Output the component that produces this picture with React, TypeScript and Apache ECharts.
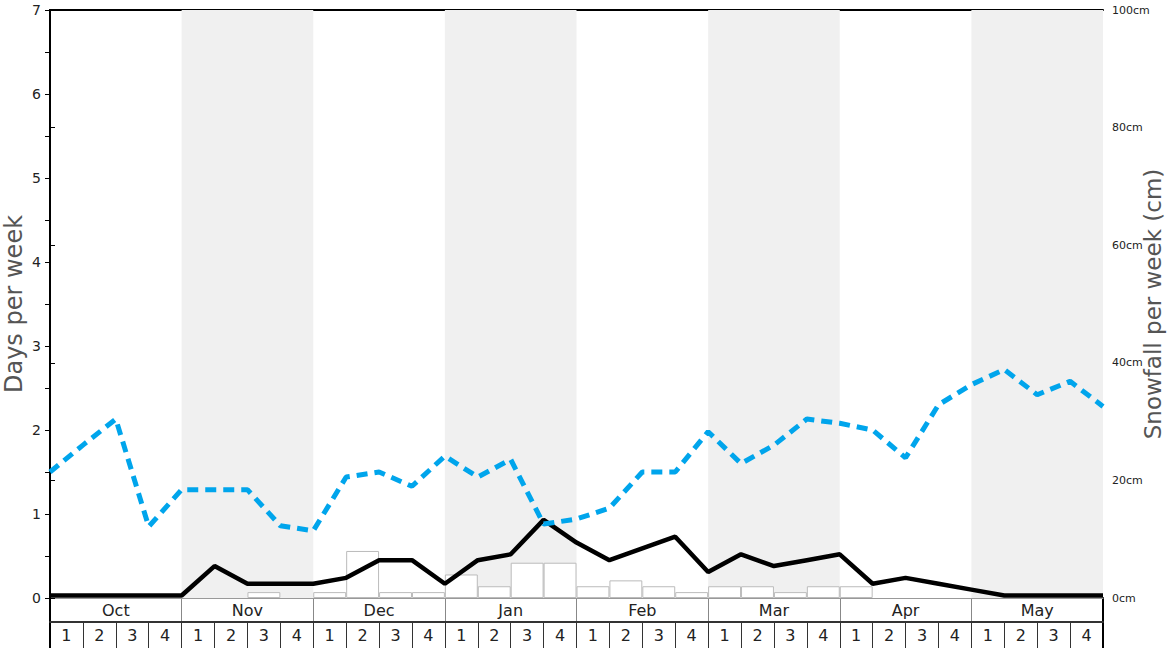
import React, { useEffect, useRef } from 'react';
import * as echarts from 'echarts';

const months = ['Oct', 'Nov', 'Dec', 'Jan', 'Feb', 'Mar', 'Apr', 'May'];
const weekLabels = ['1', '2', '3', '4'];
const shadedMonths = ['Nov', 'Jan', 'Mar', 'May'];

// Weekly snowfall (cm), 4 weeks per month, Oct..May
const snowfallCm = [
  0, 0, 0, 0,
  0, 0, 1, 0,
  1, 8, 1, 1,
  4, 2, 6, 6,
  2, 3, 2, 1,
  2, 2, 1, 2,
  2, 0, 0, 0,
  0, 0, 0, 0,
];

// Days per week, at week boundaries (33 points)
const snowDays = [
  1.5, 1.82, 2.13, 0.85,
  1.29, 1.29, 1.29, 0.86,
  0.8, 1.44, 1.5, 1.33,
  1.69, 1.44, 1.65, 0.88,
  0.94, 1.07, 1.5, 1.5,
  1.98, 1.6, 1.82, 2.13,
  2.08, 2.0, 1.67, 2.3,
  2.54, 2.72, 2.42, 2.58,
  2.28,
];

const powderDays = [
  0.03, 0.03, 0.03, 0.03,
  0.03, 0.38, 0.17, 0.17,
  0.17, 0.24, 0.45, 0.45,
  0.17, 0.45, 0.52, 0.93,
  0.66, 0.45, 0.59, 0.73,
  0.31, 0.52, 0.38, 0.45,
  0.52, 0.17, 0.24, 0.17,
  0.1, 0.03, 0.03, 0.03,
  0.03,
];

const FONT = 'DejaVu Sans';

export default function App() {
  const ref = useRef<HTMLDivElement>(null);

  useEffect(() => {
    if (!ref.current) return;
    const chart = echarts.init(ref.current, null, { renderer: 'svg' });

    const weekIds = months.flatMap((m) => weekLabels.map((w) => `${m}-${w}`));
    const nWeeks = weekIds.length;

    const shadeAreas = shadedMonths.map((m) => {
      const i = months.indexOf(m);
      return [{ xAxis: i * 4 }, { xAxis: i * 4 + 4 }];
    });

    const hiddenVal = (gridIndex: number, position: string) => ({
      type: 'value',
      gridIndex,
      position,
      min: 0,
      max: 1,
      axisLine: { show: true, lineStyle: { color: '#000', width: 2 } },
      axisTick: { show: false },
      axisLabel: { show: false },
      splitLine: { show: false },
    });

    const option: any = {
      animation: false,
      textStyle: { fontFamily: FONT },
      grid: [
        { left: 50, top: 10, width: 1053, height: 588, outerBoundsMode: 'none', containLabel: false },
        { left: 50, top: 598, width: 1053, height: 24, outerBoundsMode: 'none', containLabel: false },
        { left: 50, top: 622, width: 1053, height: 26, outerBoundsMode: 'none', containLabel: false },
      ],
      xAxis: [
        {
          type: 'value',
          gridIndex: 0,
          position: 'bottom',
          min: 0,
          max: nWeeks,
          axisLine: { show: true, lineStyle: { color: '#999', width: 1 } },
          axisTick: { show: false },
          axisLabel: { show: false },
          splitLine: { show: false },
        },
        {
          type: 'category',
          gridIndex: 0,
          position: 'bottom',
          data: weekIds,
          show: false,
          boundaryGap: true,
        },
        {
          type: 'value',
          gridIndex: 0,
          position: 'top',
          min: 0,
          max: nWeeks,
          axisLine: { show: true, lineStyle: { color: '#000', width: 2 } },
          axisTick: { show: false },
          axisLabel: { show: false },
          splitLine: { show: false },
        },
        {
          type: 'category',
          gridIndex: 1,
          position: 'bottom',
          data: months,
          boundaryGap: true,
          axisLine: { show: true, lineStyle: { color: '#333', width: 2 } },
          axisTick: { show: false },
          axisLabel: {
            inside: true,
            interval: 0,
            margin: 12,
            verticalAlign: 'middle',
            fontSize: 16,
            color: '#222',
            fontFamily: FONT,
          },
          splitLine: { show: true, interval: 0, lineStyle: { color: '#888', width: 1 } },
        },
        {
          type: 'category',
          gridIndex: 2,
          position: 'bottom',
          data: weekIds,
          boundaryGap: true,
          axisLine: { show: false },
          axisTick: { show: false },
          axisLabel: {
            inside: true,
            interval: 0,
            margin: 13,
            verticalAlign: 'middle',
            fontSize: 16,
            color: '#222',
            fontFamily: FONT,
            formatter: (_v: string, i: number) => weekLabels[i % 4],
          },
          splitLine: { show: true, interval: 0, lineStyle: { color: '#333', width: 1 } },
        },
      ],
      yAxis: [
        {
          type: 'value',
          gridIndex: 0,
          position: 'left',
          min: 0,
          max: 7,
          interval: 0.5,
          axisLine: { show: true, lineStyle: { color: '#000', width: 2 } },
          axisTick: { show: true, length: 5, lineStyle: { color: '#000', width: 1 } },
          axisLabel: {
            formatter: (v: number) => (Number.isInteger(v) ? String(v) : ''),
            fontSize: 14,
            color: '#222',
            margin: 9,
            fontFamily: FONT,
          },
          splitLine: { show: false },
          name: 'Days per week',
          nameLocation: 'middle',
          nameRotate: 90,
          nameGap: 24,
          nameMoveOverlap: false,
          nameTextStyle: { fontSize: 24, color: '#555', fontFamily: FONT },
        },
        {
          type: 'value',
          gridIndex: 0,
          position: 'right',
          min: 0,
          max: 100,
          interval: 20,
          axisLine: { show: true, lineStyle: { color: '#000', width: 2 } },
          axisTick: { show: true, length: 5, lineStyle: { color: '#000', width: 1 } },
          axisLabel: {
            formatter: '{value}cm',
            fontSize: 11,
            color: '#222',
            margin: 9,
            fontFamily: FONT,
          },
          splitLine: { show: false },
          name: 'Snowfall per week (cm)',
          nameLocation: 'middle',
          nameRotate: 90,
          nameGap: 38,
          nameMoveOverlap: false,
          nameTextStyle: { fontSize: 23, color: '#555', fontFamily: FONT },
        },
        hiddenVal(1, 'left'),
        hiddenVal(1, 'right'),
        hiddenVal(2, 'left'),
        hiddenVal(2, 'right'),
      ],
      series: [
        {
          type: 'line',
          xAxisIndex: 0,
          yAxisIndex: 0,
          z: 0,
          data: [],
          silent: true,
          markArea: {
            silent: true,
            itemStyle: { color: '#f0f0f0' },
            data: shadeAreas,
          },
        },
        {
          type: 'bar',
          xAxisIndex: 1,
          yAxisIndex: 1,
          z: 2,
          barCategoryGap: '0%',
          data: snowfallCm.map((v) => (v === 0 ? '-' : v)),
          itemStyle: { color: '#ffffff', borderColor: '#bbbbbb', borderWidth: 1 },
        },
        {
          type: 'line',
          xAxisIndex: 0,
          yAxisIndex: 0,
          z: 3,
          data: powderDays.map((v, i) => [i, v]),
          symbol: 'none',
          lineStyle: { color: '#000', width: 4.5 },
        },
        {
          type: 'line',
          xAxisIndex: 0,
          yAxisIndex: 0,
          z: 4,
          data: snowDays.map((v, i) => [i, v]),
          symbol: 'none',
          lineStyle: { color: '#00a5ec', width: 5, type: [11, 7] },
        },
      ],
    };

    chart.setOption(option);
    return () => chart.dispose();
  }, []);

  return (
    <div
      ref={ref}
      style={{ position: 'fixed', left: 0, top: 0, width: 1168, height: 648, background: '#fff' }}
    />
  );
}
